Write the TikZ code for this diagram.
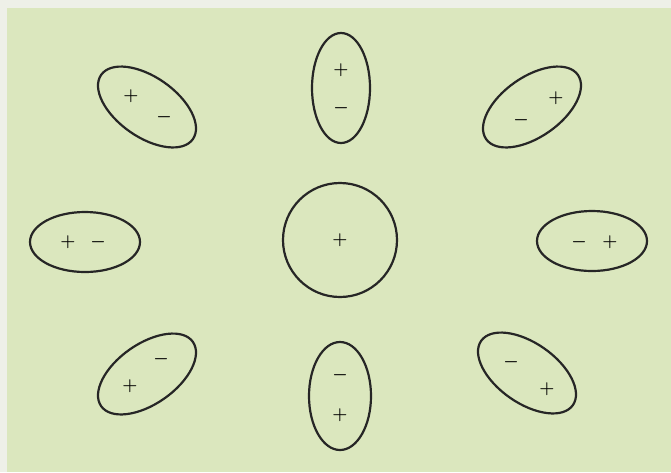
\documentclass[tikz,border=0pt]{standalone}
\usepackage{xcolor}
\definecolor{pagebg}{RGB}{238,240,232}
\definecolor{paper}{RGB}{219,231,190}
\tikzset{
  lobe/.style={line width=2.2pt, draw=black!85},
  sign/.style={inner sep=0pt, font=\boldmath\fontsize{17}{17}\selectfont, text=black}
}

\begin{document}
\begin{tikzpicture}[x=1pt, y=-1pt, line cap=round, line join=round]
  % Page and paper.
  \fill[pagebg] (0,0) rectangle (671,472);
  \fill[paper] (7,8) rectangle (671,472);
  % Central sphere.
  \draw[lobe] (340,240) circle (57);
  \node[sign] (c) at (340,240) {$+$};
  % Top and bottom.
  \draw[lobe] (341,88) ellipse (29 and 55);
  \node[sign] (tp) at (341,70) {$+$};
  \node[sign] (tm) at (341,108) {$-$};
  \draw[lobe] (340,396) ellipse (31 and 54);
  \node[sign] (bm) at (340,375) {$-$};
  \node[sign] (bp) at (340,415) {$+$};
  % Left and right.
  \draw[lobe] (85,242) ellipse (55 and 30);
  \node[sign] (lp) at (68,242) {$+$};
  \node[sign] (lm) at (98,242) {$-$};
  \draw[lobe] (592,241) ellipse (55 and 30);
  \node[sign] (rm) at (579,242) {$-$};
  \node[sign] (rp) at (610,242) {$+$};
  % Diagonals.
  \draw[lobe, rotate around={-35:(147,107)}] (147,107) ellipse (56 and 30);
  \node[sign] (tlp) at (131,96) {$+$};
  \node[sign] (tlm) at (164,117) {$-$};
  \draw[lobe, rotate around={35:(532,107)}] (532,107) ellipse (56 and 30);
  \node[sign] (trp) at (556,98) {$+$};
  \node[sign] (trm) at (521,120) {$-$};
  \draw[lobe, rotate around={35:(147,374)}] (147,374) ellipse (56 and 30);
  \node[sign] (blm) at (161,359) {$-$};
  \node[sign] (blp) at (130,386) {$+$};
  \draw[lobe, rotate around={-35:(527,373)}] (527,373) ellipse (56 and 30);
  \node[sign] (brm) at (511,362) {$-$};
  \node[sign] (brp) at (547,389) {$+$};
\end{tikzpicture}
\end{document}
